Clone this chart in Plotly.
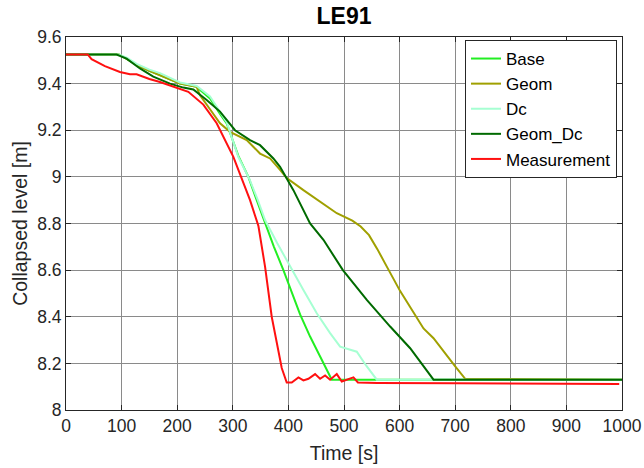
import plotly.graph_objects as go

# Data (time [s], collapsed level [m])
base_t = [0, 95, 110, 127, 150, 169, 205, 235, 259, 277, 289, 310, 328, 343, 358, 374, 391, 405, 421, 439, 460, 475, 478, 1000]
base_v = [9.525, 9.525, 9.505, 9.48, 9.455, 9.436, 9.40, 9.386, 9.336, 9.27, 9.229, 9.09, 9.0, 8.90, 8.80, 8.70, 8.60, 8.51, 8.41, 8.315, 8.215, 8.144, 8.13, 8.13]

geom_t = [0, 95, 110, 127, 150, 169, 205, 235, 241, 259, 277, 295, 325, 349, 367, 385, 397, 427, 487, 515, 530, 545, 560, 577, 601, 643, 661, 700, 718, 1000]
geom_v = [9.525, 9.525, 9.505, 9.48, 9.455, 9.436, 9.40, 9.386, 9.35, 9.29, 9.23, 9.193, 9.158, 9.10, 9.079, 9.03, 8.995, 8.943, 8.844, 8.812, 8.787, 8.75, 8.69, 8.615, 8.51, 8.35, 8.308, 8.187, 8.134, 8.13]

dc_t = [0, 95, 110, 127, 150, 169, 205, 235, 259, 277, 289, 310, 330, 345, 358, 380, 403, 427, 451, 475, 493, 508, 523, 540, 559, 1000]
dc_v = [9.525, 9.525, 9.51, 9.485, 9.46, 9.445, 9.405, 9.39, 9.345, 9.28, 9.235, 9.085, 8.99, 8.90, 8.815, 8.715, 8.615, 8.515, 8.415, 8.33, 8.272, 8.26, 8.25, 8.19, 8.13, 8.13]

geomdc_t = [0, 91, 109, 133, 157, 187, 211, 229, 253, 277, 304, 331, 349, 373, 385, 397, 409, 439, 463, 498, 541, 583, 619, 661, 1000]
geomdc_v = [9.525, 9.525, 9.507, 9.465, 9.43, 9.40, 9.383, 9.375, 9.33, 9.28, 9.20, 9.158, 9.136, 9.079, 9.043, 8.99, 8.943, 8.80, 8.73, 8.60, 8.472, 8.358, 8.265, 8.13, 8.13]

meas_t = [0, 39, 46, 70, 97, 115, 127, 150, 169, 199, 220, 247, 271, 301, 331, 346, 358, 370, 379, 388, 397, 406, 418, 427, 436, 448, 457, 466, 475, 487, 496, 508, 517, 525, 560, 700, 850, 995]
meas_v = [9.525, 9.525, 9.505, 9.475, 9.45, 9.44, 9.44, 9.42, 9.407, 9.383, 9.365, 9.31, 9.23, 9.086, 8.90, 8.79, 8.615, 8.40, 8.287, 8.18, 8.118, 8.118, 8.14, 8.127, 8.134, 8.154, 8.134, 8.148, 8.13, 8.154, 8.122, 8.134, 8.14, 8.118, 8.116, 8.115, 8.113, 8.111]

series = [
    ("Base", base_t, base_v, "#22ee22"),
    ("Geom", geom_t, geom_v, "#a0a000"),
    ("Dc", dc_t, dc_v, "#a6ffd2"),
    ("Geom_Dc", geomdc_t, geomdc_v, "#006a00"),
    ("Measurement", meas_t, meas_v, "#ff1010"),
]

fig = go.Figure()
for name, t, v, c in series:
    fig.add_trace(go.Scatter(x=t, y=v, mode="lines", name=name,
                             line=dict(color=c, width=2)))

font = "Arial, Liberation Sans, Helvetica, sans-serif"
axis_common = dict(
    showline=True, linecolor="#262626", linewidth=1, mirror="ticks",
    ticks="inside", ticklen=5, tickcolor="#262626",
    showgrid=True, gridcolor="#8a8a8a", gridwidth=1,
    zeroline=False, automargin=False,
    tickfont=dict(size=17.5, color="#262626", family=font),
)

fig.update_layout(
    width=644, height=468,
    margin=dict(l=66, r=22, t=37, b=58),
    paper_bgcolor="white", plot_bgcolor="white",
    title=dict(text="<b>LE91</b>", x=0.5, xref="paper", xanchor="center",
               y=0.966, yref="container", yanchor="middle",
               font=dict(size=23, color="black", family=font)),
    xaxis=dict(range=[0, 1000], dtick=100, tick0=0,
               title=dict(text="Time [s]", font=dict(size=19.5, color="#262626", family=font), standoff=11),
               **axis_common),
    yaxis=dict(range=[8, 9.6], dtick=0.2, tick0=8,
               title=dict(text="Collapsed level [m]", font=dict(size=19.5, color="#262626", family=font), standoff=4),
               **axis_common),
    legend=dict(x=0.991, xanchor="right", y=0.992, yanchor="top",
                bgcolor="white", bordercolor="#262626", borderwidth=1,
                font=dict(size=17, color="black", family=font),
                tracegroupgap=0, itemwidth=30),
    showlegend=True,
)

fig.write_html("out.html")
